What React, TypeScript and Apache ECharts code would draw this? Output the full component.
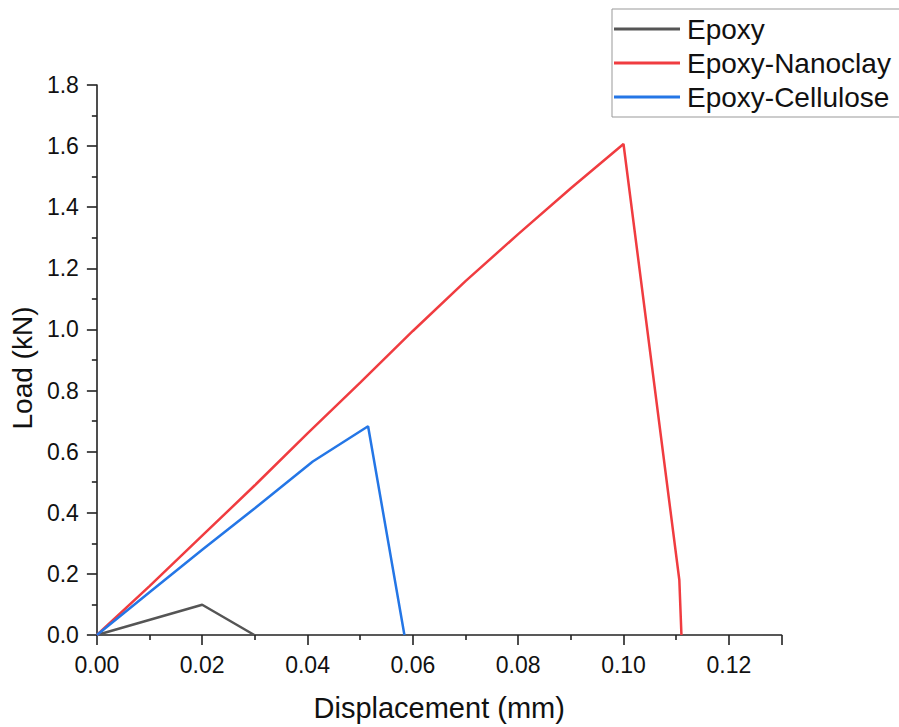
import React, { useEffect, useRef } from "react";
import * as echarts from "echarts";

const seriesNames = ["Epoxy", "Epoxy-Nanoclay", "Epoxy-Cellulose"];
const epoxyData: [number, number][] = [
  [0, 0],
  [0.02, 0.099],
  [0.0299, 0],
];
const nanoclayData: [number, number][] = [
  [0, 0],
  [0.01, 0.16],
  [0.02, 0.325],
  [0.03, 0.49],
  [0.04, 0.66],
  [0.05, 0.826],
  [0.06, 0.995],
  [0.07, 1.158],
  [0.08, 1.312],
  [0.09, 1.462],
  [0.1, 1.607],
  [0.1106, 0.18],
  [0.111, 0],
];
const celluloseData: [number, number][] = [
  [0, 0],
  [0.01, 0.14],
  [0.02, 0.279],
  [0.03, 0.415],
  [0.041, 0.568],
  [0.0515, 0.683],
  [0.0584, 0],
];
const colors = ["#555555", "#f03c40", "#2476e6"];
const xAxisName = "Displacement (mm)";
const yAxisName = "Load (kN)";

const FONT = "'Liberation Sans', Arial, sans-serif";

export default function App() {
  const ref = useRef<HTMLDivElement>(null);
  useEffect(() => {
    if (!ref.current) return;
    const chart = echarts.init(ref.current, undefined, { renderer: "svg" });
    const axisLine = { show: true, lineStyle: { color: "#222", width: 1.6 } };
    chart.setOption({
      animation: false,
      textStyle: { fontFamily: FONT },
      grid: { left: 95, right: 117.5, top: 85, bottom: 89 },
      legend: {
        left: 612,
        top: 9,
        orient: "vertical",
        icon: "rect",
        itemWidth: 66,
        itemHeight: 3,
        itemGap: 6,
        padding: [6, 30, 6, 2],
        borderColor: "#999",
        borderWidth: 1,
        textStyle: { fontSize: 28, color: "#111", fontFamily: FONT, padding: [0, 0, 0, 2] },
        data: seriesNames,
      },
      xAxis: {
        type: "value",
        min: 0,
        max: 0.13,
        interval: 0.02,
        name: xAxisName,
        nameLocation: "middle",
        nameGap: 58,
        nameTextStyle: { fontSize: 29, color: "#111", fontFamily: FONT },
        axisLine,
        axisTick: { show: true, length: 10, lineStyle: { color: "#222", width: 1.6 } },
        minorTick: { show: true, splitNumber: 2, length: 5, lineStyle: { color: "#222", width: 1.6 } },
        splitLine: { show: false },
        axisLabel: {
          fontSize: 23,
          color: "#111",
          margin: 18,
          fontFamily: FONT,
          formatter: (v: number) => (v > 0.125 ? "" : v.toFixed(2)),
        },
      },
      yAxis: {
        type: "value",
        min: 0,
        max: 1.8,
        interval: 0.2,
        name: yAxisName,
        nameLocation: "middle",
        nameGap: 57,
        nameTextStyle: { fontSize: 28, color: "#111", fontFamily: FONT, padding: [0, 16, 0, 0] },
        axisLine,
        axisTick: { show: true, length: 10, lineStyle: { color: "#222", width: 1.6 } },
        minorTick: { show: true, splitNumber: 2, length: 5, lineStyle: { color: "#222", width: 1.6 } },
        splitLine: { show: false },
        axisLabel: {
          fontSize: 23,
          color: "#111",
          margin: 18,
          fontFamily: FONT,
          formatter: (v: number) => v.toFixed(1),
        },
      },
      series: [
        { name: seriesNames[0], type: "line", data: epoxyData, showSymbol: false, symbol: "none", lineStyle: { color: colors[0], width: 2.5 }, itemStyle: { color: colors[0] } },
        { name: seriesNames[1], type: "line", data: nanoclayData, showSymbol: false, symbol: "none", lineStyle: { color: colors[1], width: 2.5 }, itemStyle: { color: colors[1] } },
        { name: seriesNames[2], type: "line", data: celluloseData, showSymbol: false, symbol: "none", lineStyle: { color: colors[2], width: 2.5 }, itemStyle: { color: colors[2] } },
      ],
    });
    return () => chart.dispose();
  }, []);
  return (
    <div
      ref={ref}
      style={{ position: "fixed", left: 0, top: 0, width: 899, height: 727, background: "#fff" }}
    />
  );
}
